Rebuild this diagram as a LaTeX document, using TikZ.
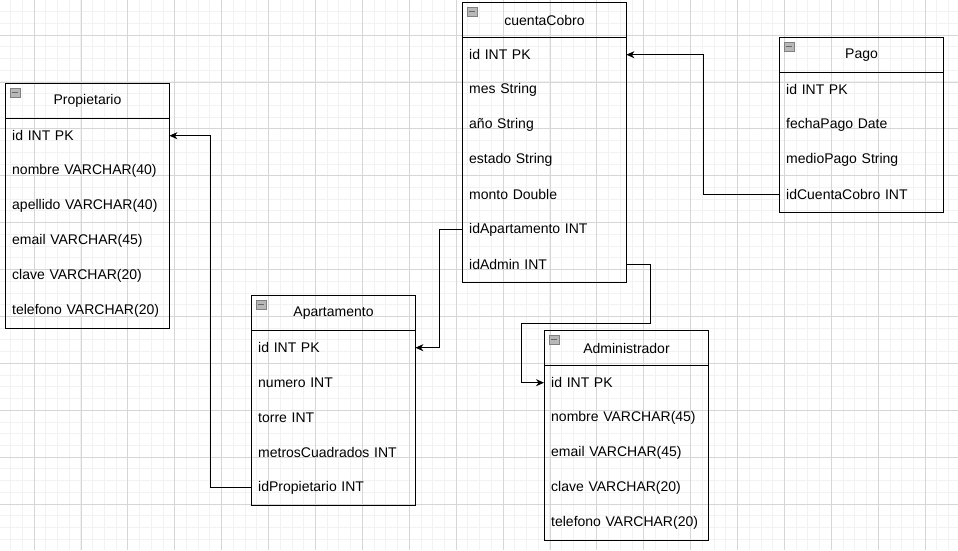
\documentclass[tikz,border=0pt]{standalone}
\usepackage{fontspec}
\setmainfont{Liberation Sans}
\usetikzlibrary{arrows.meta}

\tikzset{
  gridminor/.style={draw=black!5, line width=0.8pt},
  gridmajor/.style={draw=black!16, line width=0.8pt},
  tblhead/.style={draw, line width=1pt, anchor=north west, minimum width=164pt,
    minimum height=35pt, inner sep=0pt, font=\fontsize{14}{16}\selectfont},
  tblrow/.style={anchor=north west, minimum height=35pt, text width=150pt,
    inner xsep=7pt, inner ysep=0pt, align=left, font=\fontsize{14}{16}\selectfont},
  tblbox/.style={draw, line width=1pt},
  foldicon/.style={draw=black!50, fill=black!28, minimum width=10pt, minimum height=9pt,
    inner sep=0pt, anchor=north west,
    path picture={\draw[black!60, line width=1.3pt]
      ([xshift=2pt]path picture bounding box.west) -- ([xshift=-2pt]path picture bounding box.east);}},
  fk/.style={draw, line width=1pt, -{Stealth[length=8pt, width=7pt, inset=2.5pt]}},
}

\begin{document}
\begin{tikzpicture}[x=1pt, y=-1pt]
\useasboundingbox (0,0) rectangle (958,550);

% background grid
\foreach \k in {0,...,81} \draw[gridminor] ({-1.2+11.725*\k},0) -- ++(0,550);
\foreach \k in {0,...,46} \draw[gridminor] (0,{-0.2+11.725*\k}) -- ++(958,0);
\foreach \k in {0,...,19} \draw[gridmajor] ({34+46.9*\k},0) -- ++(0,550);
\foreach \k in {0,...,10} \draw[gridmajor] (0,{35+46.9*\k}) -- ++(958,0);

% Propietario
\node[tblhead] (prop) at (5,83) {Propietario};
\node[foldicon] (prop-ic) at ([shift={(5,5)}]prop.north west) {};
\node[tblrow] (prop-id) at (5,118) {id INT PK};
\node[tblrow] (prop-nom) at (5,153) {nombre VARCHAR(40)};
\node[tblrow] (prop-ape) at (5,188) {apellido VARCHAR(40)};
\node[tblrow] (prop-mail) at (5,223) {email VARCHAR(45)};
\node[tblrow] (prop-clave) at (5,258) {clave VARCHAR(20)};
\node[tblrow] (prop-tel) at (5,293) {telefono VARCHAR(20)};
\draw[tblbox] (prop.north west) rectangle (prop-tel.south east);

% cuentaCobro
\node[tblhead] (cc) at (462,2) {cuentaCobro};
\node[foldicon] (cc-ic) at ([shift={(5,5)}]cc.north west) {};
\node[tblrow] (cc-id) at (462,37) {id INT PK};
\node[tblrow] (cc-mes) at (462,72) {mes String};
\node[tblrow] (cc-anio) at (462,107) {año String};
\node[tblrow] (cc-estado) at (462,142) {estado String};
\node[tblrow] (cc-monto) at (462,177) {monto Double};
\node[tblrow] (cc-idapto) at (462,212) {idApartamento INT};
\node[tblrow] (cc-idadmin) at (462,247) {idAdmin INT};
\draw[tblbox] (cc.north west) rectangle (cc-idadmin.south east);

% Pago
\node[tblhead] (pago) at (779,37) {Pago};
\node[foldicon] (pago-ic) at ([shift={(5,5)}]pago.north west) {};
\node[tblrow] (pago-id) at (779,72) {id INT PK};
\node[tblrow] (pago-fecha) at (779,107) {fechaPago Date};
\node[tblrow] (pago-medio) at (779,142) {medioPago String};
\node[tblrow] (pago-idcc) at (779,177) {idCuentaCobro INT};
\draw[tblbox] (pago.north west) rectangle (pago-idcc.south east);

% Apartamento
\node[tblhead] (ap) at (251,295) {Apartamento};
\node[foldicon] (ap-ic) at ([shift={(5,5)}]ap.north west) {};
\node[tblrow] (ap-id) at (251,330) {id INT PK};
\node[tblrow] (ap-num) at (251,365) {numero INT};
\node[tblrow] (ap-torre) at (251,400) {torre INT};
\node[tblrow] (ap-metros) at (251,435) {metrosCuadrados INT};
\node[tblrow] (ap-idprop) at (251,470) {idPropietario INT};
\draw[tblbox] (ap.north west) rectangle (ap-idprop.south east);

% Administrador
\node[tblhead] (adm) at (544,330) {Administrador};
\node[foldicon] (adm-ic) at ([shift={(5,5)}]adm.north west) {};
\node[tblrow] (adm-id) at (544,365) {id INT PK};
\node[tblrow] (adm-nom) at (544,400) {nombre VARCHAR(45)};
\node[tblrow] (adm-mail) at (544,435) {email VARCHAR(45)};
\node[tblrow] (adm-clave) at (544,470) {clave VARCHAR(20)};
\node[tblrow] (adm-tel) at (544,505) {telefono VARCHAR(20)};
\draw[tblbox] (adm.north west) rectangle (adm-tel.south east);

% foreign keys
\draw[fk] (ap-idprop.west) -- ++(-41,0) |- (prop-id.east);
\draw[fk] (cc-idapto.west) -- ++(-23,0) |- (ap-id.east);
\draw[fk] (cc-idadmin.east) -- ++(24,0) -- ++(0,59) -| ([xshift=-23pt]adm-id.west) -- (adm-id.west);
\draw[fk] (pago-idcc.west) -- ++(-76,0) |- (cc-id.east);

\end{tikzpicture}
\end{document}
